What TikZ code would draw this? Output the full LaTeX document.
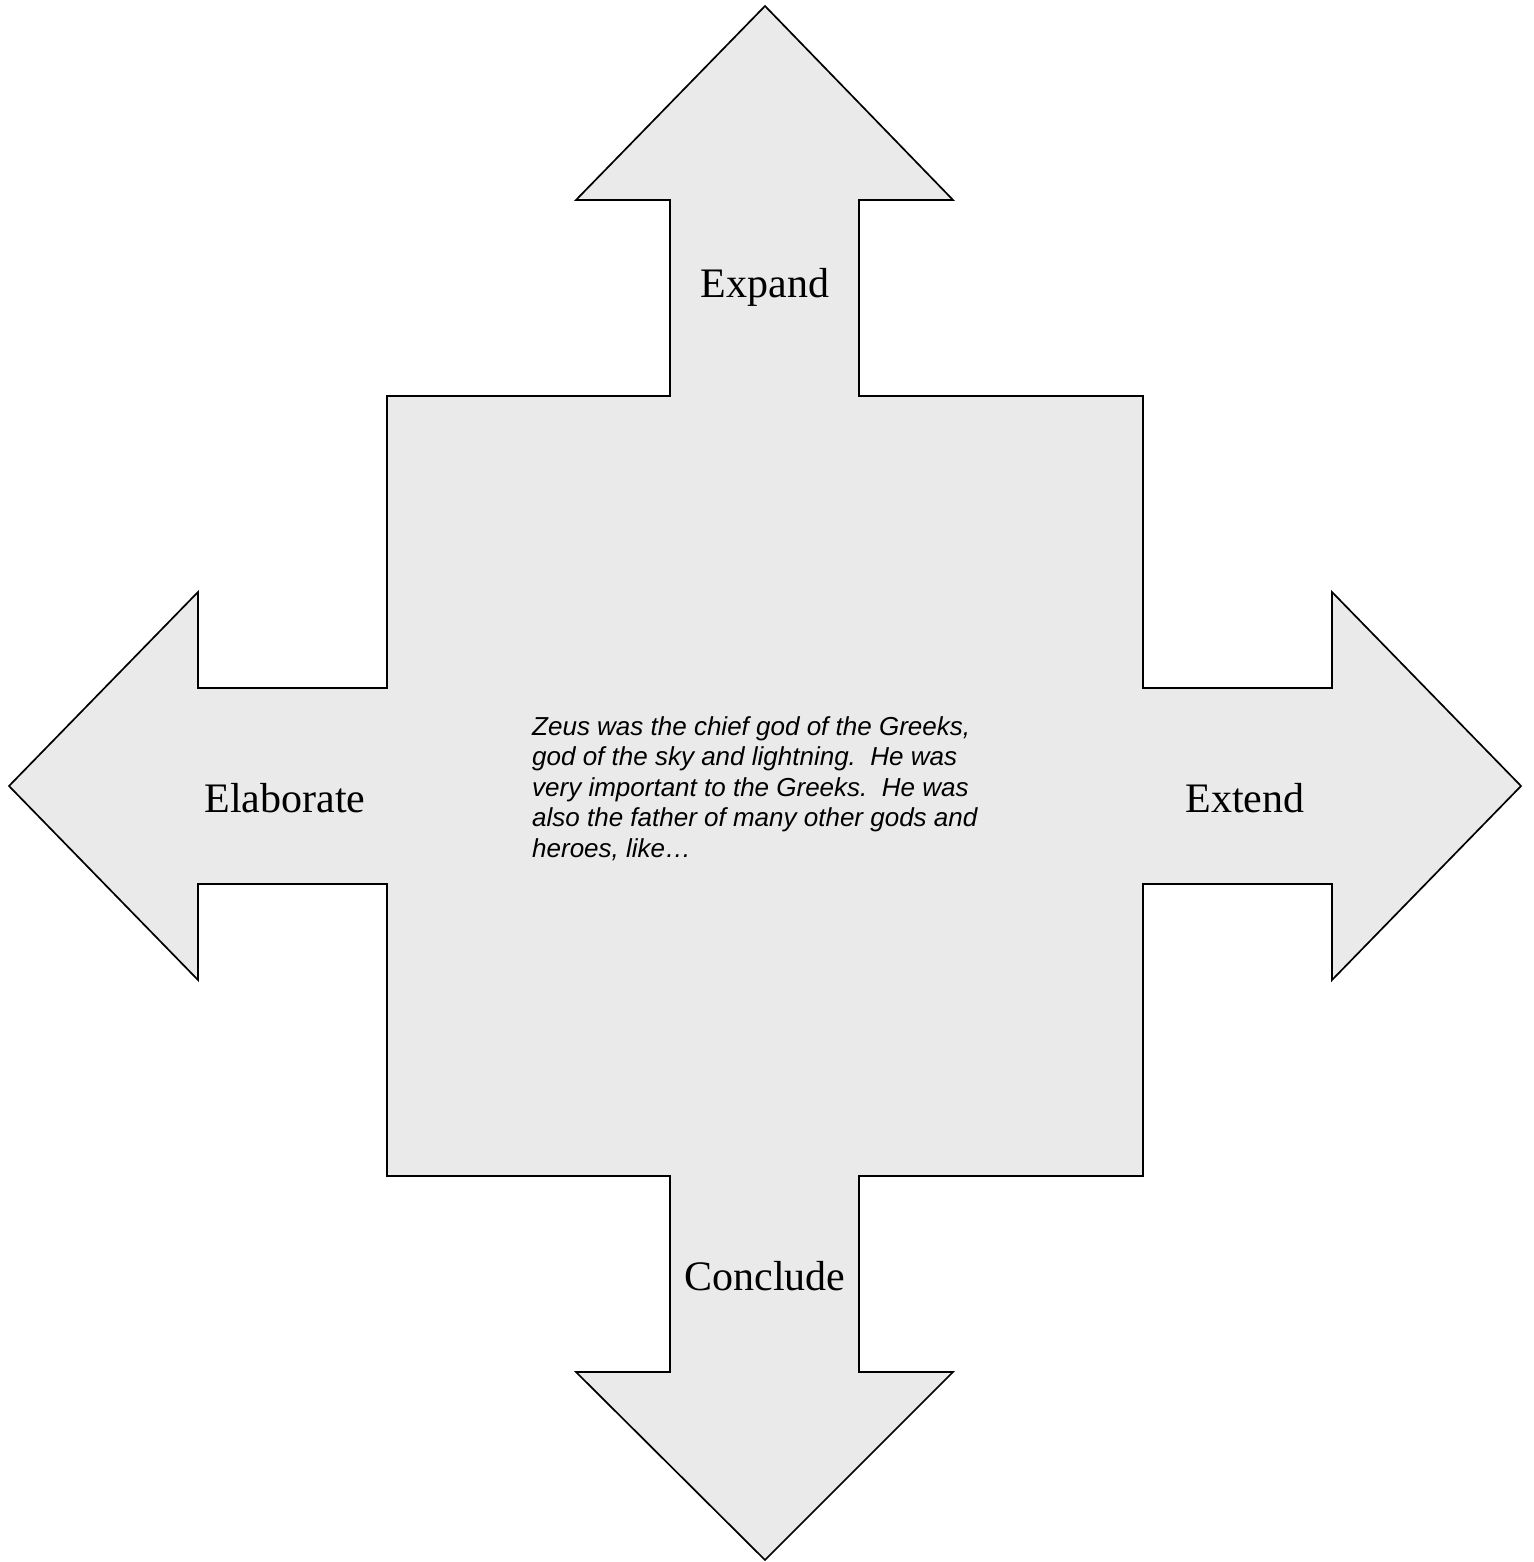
\documentclass[tikz,border=0pt]{standalone}
\usepackage{fontspec}
\setmainfont{Liberation Serif}
\newfontfamily\bodysans{Liberation Sans}
\begin{document}
\begin{tikzpicture}[x=1pt,y=-1pt,
  arrowshape/.style={draw=black,line width=1.7pt,line join=miter,fill={rgb,255:red,234;green,234;blue,234}},
  armlabel/.style={font=\fontsize{42}{48}\selectfont,anchor=base,inner sep=0pt},
  bodytext/.style={font=\bodysans\itshape\fontsize{26}{30.5}\selectfont,align=left,anchor=north west,inner sep=0pt}]
\useasboundingbox (0,0) rectangle (1533,1562);

% four-way arrow outline
\draw[arrowshape]
  (765,6) -- (953,200) -- (859,200) -- (859,396) -- (1143,396)
  -- (1143,688) -- (1332,688) -- (1332,592) -- (1521,786)
  -- (1332,980) -- (1332,884) -- (1143,884) -- (1143,1176)
  -- (859,1176) -- (859,1372) -- (953,1372) -- (765,1560)
  -- (576,1372) -- (670,1372) -- (670,1176) -- (387,1176)
  -- (387,884) -- (198,884) -- (198,980) -- (9,786)
  -- (198,592) -- (198,688) -- (387,688) -- (387,396)
  -- (670,396) -- (670,200) -- (576,200) -- cycle;

\node[armlabel] (expand) at (765,297) {Expand};
\node[armlabel] (elaborate) at (285,812) {Elaborate};
\node[armlabel] (extend) at (1245,812) {Extend};
\node[armlabel] (conclude) at (765,1290) {Conclude};

\node[bodytext] (zeus) at (532,716) {Zeus was the chief god of the Greeks,\\
god of the sky and lightning.\ \ He was\\
very important to the Greeks.\ \ He was\\
also the father of many other gods and\\
heroes, like…};
\end{tikzpicture}
\end{document}
